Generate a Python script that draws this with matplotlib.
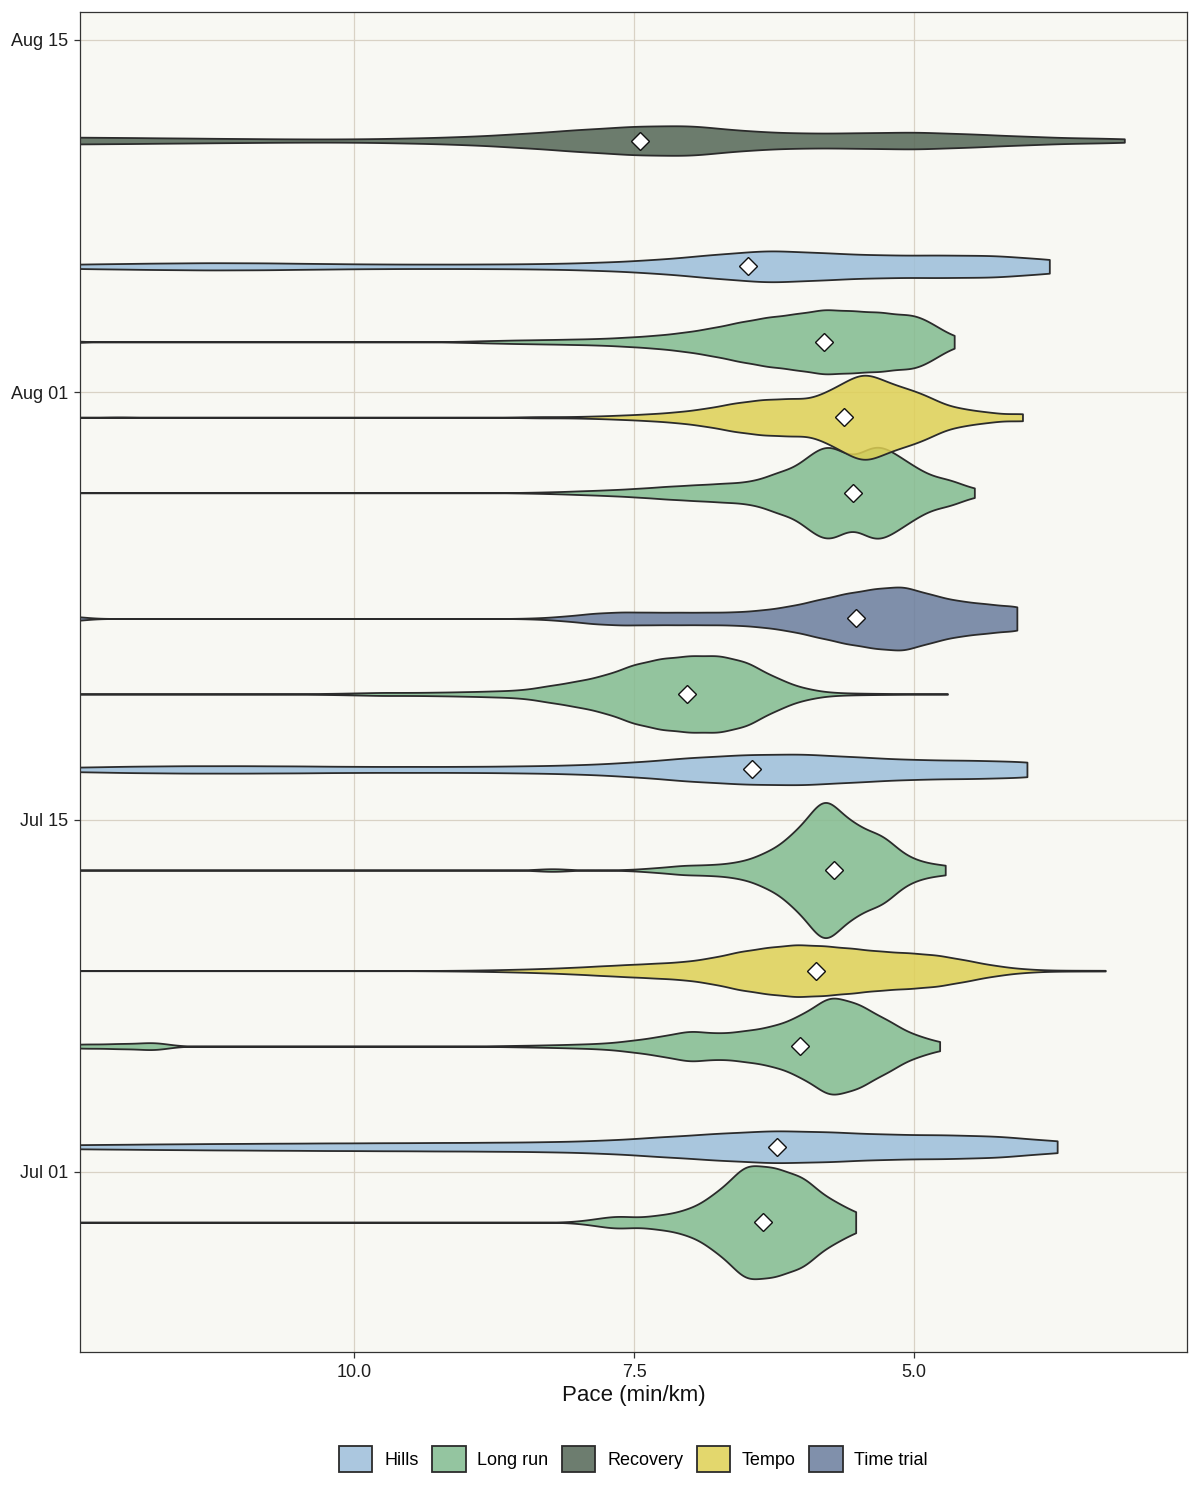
import datetime as dt

import numpy as np
import matplotlib
matplotlib.use("Agg")
from matplotlib import pyplot as plt
import matplotlib.dates as mdates
from matplotlib.colors import to_rgba
from matplotlib.patches import Patch

plt.rcParams['font.family'] = ['Liberation Sans', 'DejaVu Sans']

# one violin per run: pace samples (min/km) and time spent around each pace
run_dates = ["2024-06-29", "2024-07-02", "2024-07-06", "2024-07-09", "2024-07-13",
             "2024-07-17", "2024-07-20", "2024-07-23", "2024-07-28", "2024-07-31",
             "2024-08-03", "2024-08-06", "2024-08-11"]
run_types = ["Long run", "Hills", "Long run", "Tempo", "Long run",
             "Hills", "Long run", "Time trial", "Long run", "Tempo",
             "Long run", "Hills", "Recovery"]
mean_pace = [6.35, 6.22, 6.02, 5.875, 5.71, 6.45, 7.03, 5.52, 5.545, 5.62, 5.80, 6.48, 7.45]

pace_0629 = [5.52, 5.75, 6.0, 6.25, 6.5, 6.75, 7.0, 7.25, 7.45, 7.65, 7.85, 8.05, 11.35, 13.5]
secs_0629 = [9, 22, 47, 55, 60, 30, 13, 7, 3, 6, 2.5, 0.3, 0.3, 0.05]

pace_0702 = [3.72, 4.25, 4.75, 5.25, 5.75, 6.25, 6.75, 7.25, 7.75, 8.25, 8.75,
             9.25, 9.75, 10.25, 10.75, 11.25, 11.75, 12.25, 12.75, 13.25, 13.75]
secs_0702 = [13, 22, 24, 25, 30, 33, 27, 20, 13, 10, 9,
             8.5, 8, 7.6, 7, 6.4, 5.6, 4.6, 3.6, 2.2, 0.8]

pace_0706 = [4.77, 5.0, 5.25, 5.5, 5.75, 6.0, 6.25, 6.5, 6.75, 7.0, 7.25, 7.5, 7.75,
             8.0, 8.25, 8.5, 8.75, 11.8, 12.1, 12.4, 12.7, 13.0]
secs_0706 = [3.6, 11, 27, 43, 52, 31, 20, 15.5, 12.5, 16, 10, 6, 3,
             2, 1.3, 0.8, 0.4, 4.5, 3, 2.5, 1.5, 0.5]

pace_0709 = [3.29, 3.55, 3.8, 4.05, 4.3, 4.55, 4.8, 5.05, 5.3, 5.55, 5.8, 6.05, 6.3,
             6.55, 6.8, 7.05, 7.3, 7.55, 7.8, 8.05, 8.3, 8.55, 8.8, 9.05, 9.3, 13.5]
secs_0709 = [0.4, 0.4, 0.6, 2, 5.5, 11, 16, 18, 19.5, 22.5, 25, 26.5, 23.5,
             19.5, 13, 9, 7.5, 6.2, 4.8, 3.3, 2.2, 1.4, 0.8, 0.4, 0.2, 0.05]

pace_0713 = [4.72, 4.95, 5.1, 5.3, 5.55, 5.8, 6.05, 6.3, 6.55, 6.8, 7.05, 7.3, 7.55, 8.23, 13.5]
secs_0713 = [5, 6, 9, 36, 46, 78, 38, 18, 8, 5.3, 5, 2.3, 0.5, 1.8, 0.05]

pace_0717 = [3.99, 4.5, 5.0, 5.5, 6.0, 6.5, 7.0, 7.5, 8.0, 8.5, 9.0, 9.5, 10.0,
             10.5, 11.0, 11.5, 12.0, 12.5, 13.0, 13.5]
secs_0717 = [17, 18.5, 19.5, 25, 31.5, 30, 24, 14.5, 9, 7, 6, 6, 6,
             7, 7.5, 7.5, 6.5, 4.5, 2.5, 1.2]

pace_0720 = [4.7, 5.0, 5.25, 5.5, 5.75, 6.0, 6.25, 6.5, 6.75, 7.0, 7.25, 7.5, 7.75,
             8.0, 8.25, 8.5, 8.75, 9.0, 9.25, 9.5, 9.75, 10.0, 10.25, 10.5, 11.0, 13.5]
secs_0720 = [0.4, 0.3, 0.5, 0.8, 1.5, 6, 17, 33, 39, 38.5, 36, 30, 19,
             13, 8.5, 4, 3, 2.3, 1.8, 1.5, 1.6, 1.0, 0.5, 0.3, 0.2, 0.05]

pace_0723 = [4.08, 4.35, 4.6, 4.85, 5.1, 5.35, 5.6, 5.85, 6.1, 6.35, 6.6, 6.85, 7.1,
             7.35, 7.6, 7.85, 8.1, 8.35, 12.55, 13.5]
secs_0723 = [14, 15, 17.5, 24, 33, 30, 25.5, 19, 12.5, 8.5, 6.5, 6.3, 6.3,
             6.3, 6.7, 5.5, 2.5, 0.6, 3, 0.05]

pace_0728 = [4.46, 4.7, 4.95, 5.15, 5.35, 5.55, 5.75, 5.95, 6.2, 6.45, 6.7, 6.95, 7.2,
             7.45, 7.7, 7.95, 8.2, 8.45, 13.5]
secs_0728 = [3.5, 14, 19, 30, 44, 22, 44, 30, 21, 11, 9.5, 8, 6.5,
             4.5, 3, 2, 1, 0.4, 0.05]

pace_0731 = [4.03, 4.35, 4.6, 4.85, 5.05, 5.25, 5.45, 5.65, 5.85, 6.1, 6.35, 6.6, 6.85,
             7.1, 7.35, 7.6, 7.85, 8.1, 8.35, 8.6, 12.1, 13.5]
secs_0731 = [4.5, 5.5, 9, 17, 23, 28, 39, 26, 18, 19, 18, 14.5, 9,
             5.5, 3.5, 2.2, 1.2, 0.6, 0.7, 0.2, 0.5, 0.05]

pace_0803 = [4.64, 4.85, 5.05, 5.3, 5.55, 5.8, 6.05, 6.3, 6.55, 6.8, 7.05, 7.3, 7.55,
             7.8, 8.05, 8.3, 8.55, 8.8, 9.05, 12.6, 13.5]
secs_0803 = [3.5, 16, 26, 30, 31, 33, 28, 25, 20, 14, 9.5, 6.5, 4.7,
             3.3, 2.7, 2.2, 1.8, 1.2, 0.5, 1.5, 0.05]

pace_0806 = [3.79, 4.3, 4.8, 5.3, 5.8, 6.3, 6.8, 7.3, 7.8, 8.3, 8.8, 9.3, 9.8,
             10.3, 10.8, 11.3, 11.8, 12.3, 12.8, 13.3]
secs_0806 = [15, 22.5, 22.5, 22.5, 27, 33, 23.5, 13.5, 8, 5.4, 4.6, 4.4, 4.6,
             5.6, 7, 7.4, 6.4, 5, 3.2, 1.6]

pace_0811 = [3.12, 3.5, 4.0, 4.5, 5.0, 5.5, 6.0, 6.5, 7.0, 7.5, 8.0, 8.5, 9.0,
             9.5, 10.0, 10.5, 11.0, 11.5, 12.0, 12.5, 13.0, 13.5]
secs_0811 = [3, 4.6, 8.6, 13.4, 17.5, 15.4, 14.6, 19, 31, 29, 22, 14, 8,
             5, 3.2, 3.2, 4, 5, 6, 7, 6, 3]

run_paces = [pace_0629, pace_0702, pace_0706, pace_0709, pace_0713, pace_0717, pace_0720,
             pace_0723, pace_0728, pace_0731, pace_0803, pace_0806, pace_0811]
run_secs = [secs_0629, secs_0702, secs_0706, secs_0709, secs_0713, secs_0717, secs_0720,
            secs_0723, secs_0728, secs_0731, secs_0803, secs_0806, secs_0811]

type_order = ["Hills", "Long run", "Recovery", "Tempo", "Time trial"]
type_colors = {"Hills": "#9cbeda", "Long run": "#82bb8f", "Recovery": "#546656",
               "Tempo": "#ded054", "Time trial": "#6a7d9d"}
kde_bw = {"Hills": 0.28, "Recovery": 0.28, "Long run": 0.14, "Tempo": 0.14, "Time trial": 0.14}
width_scale = 0.0099  # days of y axis per unit of density
fill_alpha = 0.85
edge = "#2b2b2b"


def density(p, w, bw, grid):
    p = np.asarray(p, dtype=float)
    w = np.asarray(w, dtype=float)
    z = (grid[:, None] - p[None, :]) / bw
    return (np.exp(-0.5 * z ** 2) * w).sum(axis=1) / (bw * np.sqrt(2 * np.pi))


fig = plt.figure(figsize=(12, 15), dpi=100)
ax = fig.add_axes([80 / 1200, 1 - 1352 / 1500, 1107 / 1200, 1340 / 1500])
ax.set_facecolor("#f8f8f3")

days = [mdates.date2num(dt.datetime.strptime(d, "%Y-%m-%d")) for d in run_dates]

for i in range(len(run_dates)):
    p = run_paces[i]
    kind = run_types[i]
    grid = np.linspace(min(p), max(p), 600)
    half = density(p, run_secs[i], kde_bw[kind], grid) * width_scale
    ax.fill_between(grid, days[i] - half, days[i] + half,
                    facecolor=to_rgba(type_colors[kind], fill_alpha),
                    edgecolor=edge, linewidth=1.3, zorder=2 + i * 0.01)

ax.plot(mean_pace, days, linestyle="none", marker="D", markersize=9,
        markerfacecolor="white", markeredgecolor="#111111", markeredgewidth=1.0, zorder=10)

ax.set_xlim(12.45, 2.56)
y0 = mdates.date2num(dt.datetime(2024, 7, 1)) - 7.16
y1 = mdates.date2num(dt.datetime(2024, 8, 15)) + 1.11
ax.set_ylim(y0, y1)

ax.set_xticks([10.0, 7.5, 5.0])
ax.set_xticklabels(["10.0", "7.5", "5.0"])
ax.set_yticks([mdates.date2num(dt.datetime(2024, m, d)) for m, d in [(7, 1), (7, 15), (8, 1), (8, 15)]])
ax.yaxis.set_major_formatter(mdates.DateFormatter("%b %d"))

ax.grid(True, color="#d9d2c5", linewidth=0.9, zorder=0)
ax.set_axisbelow(True)
for s in ax.spines.values():
    s.set_color("#333333")
    s.set_linewidth(0.9)
ax.tick_params(axis="both", length=4.5, width=0.9, color="#333333",
               labelsize=13, labelcolor="#1e1e1e", pad=4)
ax.set_xlabel("Pace (min/km)", fontsize=16, labelpad=3, color="#111111")

handles = [Patch(facecolor=to_rgba(type_colors[t], fill_alpha), edgecolor=edge,
                 linewidth=1.3, label=t) for t in type_order]
fig.legend(handles=handles, loc="center", bbox_to_anchor=(633.5 / 1200, 1 - 1459 / 1500),
           ncol=5, frameon=False, fontsize=13, handlelength=1.85, handleheight=1.85,
           handletextpad=0.65, columnspacing=0.75)

fig.savefig("out.png", dpi=100)
